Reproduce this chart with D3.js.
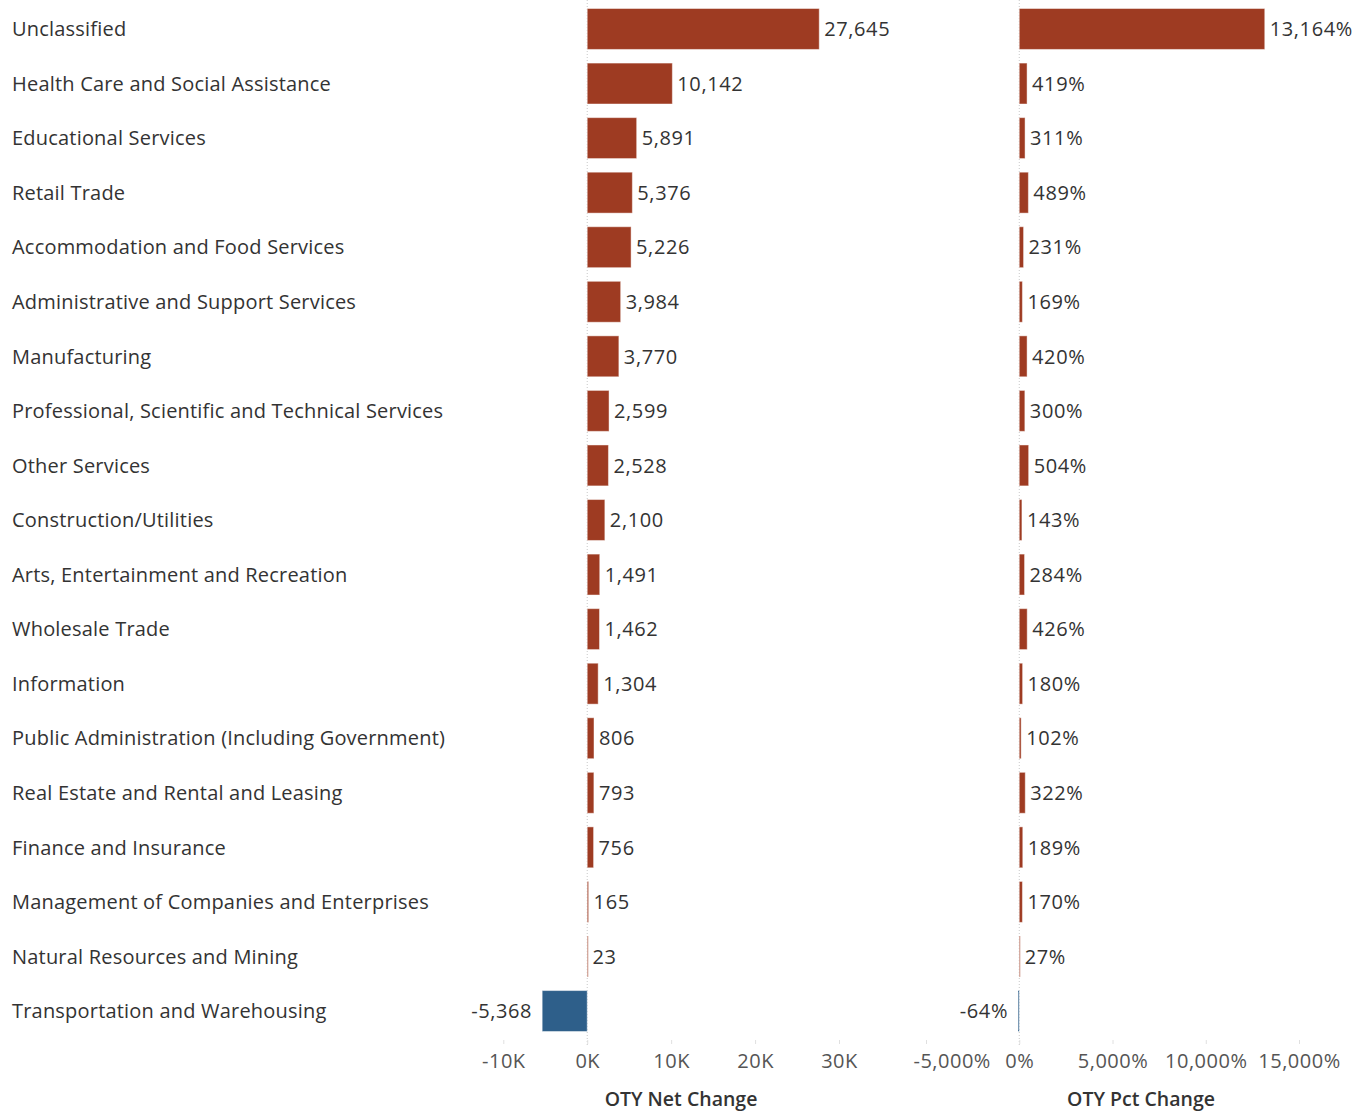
<!DOCTYPE html>
<html>
<head>
<meta charset="utf-8">
<script src="https://cdn.jsdelivr.net/npm/d3@7"></script>
<style>
  body { margin: 0; background: #fff; }
  svg { display: block; font-family: "Open Sans", sans-serif; }
</style>
</head>
<body>
<svg id="chart" width="1365" height="1111"></svg>
<script>
const categories = [
  "Unclassified",
  "Health Care and Social Assistance",
  "Educational Services",
  "Retail Trade",
  "Accommodation and Food Services",
  "Administrative and Support Services",
  "Manufacturing",
  "Professional, Scientific and Technical Services",
  "Other Services",
  "Construction/Utilities",
  "Arts, Entertainment and Recreation",
  "Wholesale Trade",
  "Information",
  "Public Administration (Including Government)",
  "Real Estate and Rental and Leasing",
  "Finance and Insurance",
  "Management of Companies and Enterprises",
  "Natural Resources and Mining",
  "Transportation and Warehousing"
];
const netChange = [27645, 10142, 5891, 5376, 5226, 3984, 3770, 2599, 2528, 2100, 1491, 1462, 1304, 806, 793, 756, 165, 23, -5368];
const pctChange = [13164, 419, 311, 489, 231, 169, 420, 300, 504, 143, 284, 426, 180, 102, 322, 189, 170, 27, -64];
const netTicks = [-10000, 0, 10000, 20000, 30000];
const netTickLabels = ["-10K", "0K", "10K", "20K", "30K"];
const pctTicks = [-5000, 0, 5000, 10000, 15000];
const pctTickLabels = ["-5,000%", "0%", "5,000%", "10,000%", "15,000%"];

const locale = d3.formatLocale({ decimal: ".", thousands: ",", grouping: [3], currency: ["$", ""], minus: "-" });
const fmtNum = locale.format(",");

const svg = d3.select("#chart");
const posColor = "#9e3b22";
const negColor = "#2e5f8a";
const textColor = "#333333";

const y = d3.scaleBand().domain(categories).range([1.7, 1038.3]).paddingInner(0.25).paddingOuter(0.125);

const xNet = d3.scaleLinear().domain([-10000, 30000]).range([503.3, 839]);
const xPct = d3.scaleLinear().domain([-5000, 15000]).range([926, 1299]);

// Row labels
svg.append("g").selectAll("text").data(categories).join("text")
  .attr("x", 12)
  .attr("y", d => y(d) + y.bandwidth() / 2)
  .attr("dy", "0.36em")
  .attr("font-size", 20)
  .attr("letter-spacing", 0.2)
  .attr("fill", textColor)
  .text(d => d);

function panel(scale, values, ticks, tickLabels, fmt, title, titleX, paneLeft) {
  const g = svg.append("g");
  g.append("line")
    .attr("x1", scale(0)).attr("x2", scale(0))
    .attr("y1", 0).attr("y2", 1046)
    .attr("stroke", "#c8c8c8").attr("stroke-width", 1)
    .attr("stroke-dasharray", "1,2");
  const rows = categories.map((c, i) => ({ c, v: values[i] }));
  g.selectAll("rect").data(rows).join("rect")
    .attr("x", d => Math.min(scale(0), scale(d.v)))
    .attr("y", d => y(d.c))
    .attr("width", d => Math.max(1, Math.abs(scale(d.v) - scale(0))))
    .attr("height", y.bandwidth())
    .attr("fill", d => d.v < 0 ? negColor : posColor)
    .attr("stroke", "rgba(255,255,255,0.45)")
    .attr("stroke-width", 1);
  g.selectAll("text.val").data(rows).join("text")
    .attr("class", "val")
    .attr("x", d => d.v < 0 ? Math.min(scale(0), scale(d.v)) - 10 : Math.max(scale(0), scale(d.v)) + 5)
    .attr("y", d => y(d.c) + y.bandwidth() / 2)
    .attr("dy", "0.36em")
    .attr("text-anchor", d => d.v < 0 ? "end" : "start")
    .attr("font-size", 20)
    .attr("letter-spacing", 0.6)
    .attr("fill", textColor)
    .text(d => fmt(d.v));
  const axis = d3.axisBottom(scale).tickValues(ticks).tickSize(4).tickPadding(10)
    .tickFormat((d, i) => tickLabels[i]);
  const ag = g.append("g").attr("transform", "translate(0,1040)").call(axis);
  ag.select(".domain").remove();
  ag.selectAll(".tick line").attr("stroke", "#e0e0e0");
  ag.selectAll(".tick text")
    .attr("font-size", 20)
    .attr("letter-spacing", 0.5)
    .attr("fill", "#555")
    .attr("font-family", "Open Sans, sans-serif");
  // keep tick labels inside the pane (as the original does)
  ag.selectAll(".tick").each(function(d) {
    const t = d3.select(this).select("text");
    const w = t.node().getComputedTextLength();
    const left = scale(d) - w / 2;
    if (left < paneLeft) {
      t.attr("text-anchor", "start").attr("x", paneLeft - scale(d));
    }
  });
  g.append("text")
    .attr("x", titleX)
    .attr("y", 1106)
    .attr("text-anchor", "middle")
    .attr("font-size", 19.5)
    .attr("font-weight", 600)
    .attr("fill", textColor)
    .text(title);
}

panel(xNet, netChange, netTicks, netTickLabels, fmtNum, "OTY Net Change", 681, 470);
panel(xPct, pctChange, pctTicks, pctTickLabels, d => fmtNum(d) + "%", "OTY Pct Change", 1141, 913);
</script>
</body>
</html>
